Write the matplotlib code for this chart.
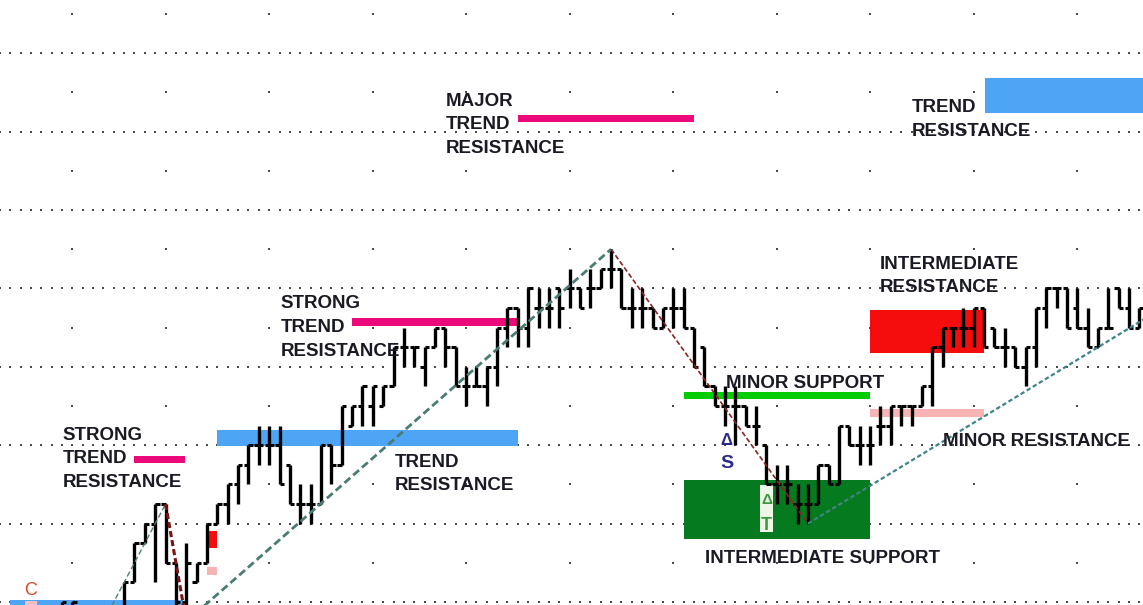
import numpy as np
import matplotlib.pyplot as plt
from matplotlib.patches import Rectangle
from matplotlib import font_manager

# price bars, one per session (price in grid units, 4 units per dotted line)
highs = [0, 0, -0.5, -0.5, -0.5, -0.5, 1, 3, 4, 5,
         5, 2, 3, 2, 4, 5, 6, 7, 8, 9,
         9, 9, 7, 6, 6, 8, 8, 10, 10, 11,
         11, 11, 13, 14, 13, 13, 14, 14, 13, 12,
         12, 12, 14, 15, 15, 16, 16, 16, 16, 17,
         16, 17, 17, 18, 17, 16, 16, 15, 15, 16,
         16, 14, 13, 11, 11, 11, 10, 10, 8, 7,
         7, 6, 6, 7, 7, 9, 9, 9, 9, 10,
         10, 10, 10, 11, 13, 14, 14, 15, 15, 15,
         14, 14, 13, 13, 15, 16, 16, 16, 16, 15,
         14, 16, 16, 16, 15]
lows = [-1, -1, -1.5, -2, -1, -1.5, -1, 1, 3, 1,
        2, -1, -1, 1, 2, 4, 4, 5, 6, 7,
        7, 6, 5, 4, 4, 5, 6, 7, 9, 9,
        9, 10, 11, 12, 12, 11, 13, 12, 11, 10,
        11, 10, 11, 13, 13, 13, 14, 14, 14, 15,
        15, 15, 16, 16, 15, 14, 14, 14, 14, 14,
        14, 12, 11, 10, 9, 8, 9, 8, 6, 5,
        5, 4, 4, 5, 6, 6, 8, 7, 7, 8,
        8, 9, 9, 10, 10, 12, 13, 13, 13, 13,
        13, 12, 12, 11, 12, 14, 15, 14, 14, 13,
        13, 14, 15, 14, 14]
opens = [-1, -1, -1, -1.5, -1, -1, -0.5, 1, 3, 4,
         5, 2, 0, 1, 2, 4, 5, 6, 7, 8,
         8, 8, 7, 5, 5, 5, 8, 7, 9, 10,
         10, 10, 11, 13, 13, 12, 13, 14, 13, 11,
         11, 11, 12, 14, 15, 14, 15, 15, 16, 16,
         16, 16, 16, 17, 17, 15, 15, 15, 14, 15,
         15, 14, 13, 11, 10, 10, 10, 9, 8, 6,
         6, 5, 5, 5, 7, 6, 9, 8, 8, 9,
         9, 10, 10, 10, 11, 13, 14, 14, 14, 15,
         14, 13, 13, 12, 13, 15, 16, 16, 15, 14,
         13, 14, 16, 15, 14]
closes = [0, 0, -1, -1, -0.5, -0.5, 1, 3, 4, 5,
          2, 0, 2, 2, 4, 5, 6, 7, 8, 8,
          8, 6, 5, 5, 5, 8, 7, 10, 10, 11,
          11, 11, 13, 13, 13, 13, 14, 13, 11, 11,
          11, 12, 14, 15, 14, 16, 15, 15, 15, 16,
          15, 16, 17, 17, 15, 15, 15, 14, 15, 15,
          14, 12, 11, 10, 10, 10, 9, 9, 6, 6,
          6, 5, 5, 7, 6, 9, 8, 8, 8, 9,
          10, 10, 10, 11, 13, 14, 14, 14, 15, 13,
          13, 13, 12, 13, 15, 16, 16, 14, 14, 13,
          14, 14, 15, 14, 15]

# sessions that carry a calendar mark on the half-grid rows
date_marks = [1, 10, 20, 30, 39, 49, 59, 69, 78, 88, 98]

# support / resistance zones (session span, price span)
zone_start = [-5.0, -3.6, 7.0, 15.0, 28.0, 44.0, 89.1, 60.0, 60.0, 78.0, 78.0, 14.0, 14.0]
zone_end = [11.7, -2.4, 11.9, 44.0, 44.0, 61.0, 106.0, 78.0, 78.0, 89.0, 89.0, 15.0, 15.0]
zone_low = [-0.5, -0.5, 7.08, 7.96, 14.08, 24.49, 24.95, 10.34, 3.20, 12.72, 9.42, 2.74, 1.38]
zone_high = [0.1, 0.05, 7.45, 8.78, 14.47, 24.85, 26.73, 10.73, 6.22, 14.90, 9.83, 3.64, 1.79]
zone_color = ['#4fa5f5', '#f7c0c0', '#ec0a7b', '#4fa5f5', '#ec0a7b', '#ec0a7b', '#4fa5f5',
              '#00cc00', '#067a1e', '#f50d0d', '#f7b4b4', '#f50d0d', '#f7b4b4']

# trend lines: (start session, start on 'low'/'high', end session, end on ...)
trend_lines = [(4, 'low', 10, 'high'), (12, 'low', 53, 'high'), (10, 'high', 12, 'low'),
               (53, 'high', 72, 'low'), (72, 'low', 100, 'low')]

names = {f.name for f in font_manager.fontManager.ttflist}
if 'Liberation Sans Narrow' in names:
    label_font, label_size = 'Liberation Sans Narrow', 16
else:
    label_font, label_size = 'Liberation Sans', 13.5
fam = [label_font, 'DejaVu Sans']

W, H = 1143, 605
fig = plt.figure(figsize=(W / 100, H / 100), dpi=100)
ax = fig.add_axes([0, 0, 1, 1])
ax.set_xlim(-5.98, 104.34)
ax.set_ylim(-0.153, 30.71)
ax.axis('off')


def px(x, y):
    '''pixel position of the reference -> data coords'''
    return (x - 62) / 10.36, (602 - y) / 19.6


# dotted grid, one dot per session on the full rows
sessions = np.arange(-6, 106)
for lvl in range(0, 30, 4):
    ax.scatter(sessions, np.full(len(sessions), lvl), s=1.8, marker='s', color='#4a4a4a', lw=0, zorder=0)
for lvl in range(2, 32, 4):
    ax.scatter(date_marks, np.full(len(date_marks), lvl), s=1.8, marker='s', color='#4a4a4a', lw=0, zorder=0)

for x0, x1, lo, hi, c in zip(zone_start, zone_end, zone_low, zone_high, zone_color):
    ax.add_patch(Rectangle((x0, lo), x1 - x0, hi - lo, color=c, lw=0, zorder=1))

# OHLC bars
x = np.arange(len(highs))
ax.vlines(x, lows, highs, color='black', lw=2.4, zorder=3)
ax.hlines(opens, x - 0.42, x, color='black', lw=2.2, zorder=3)
ax.hlines(closes, x, x + 0.42, color='black', lw=2.2, zorder=3)

series = {'low': lows, 'high': highs}
styles = [dict(color='#4f8078', lw=1.0, ls=(0, (4, 2))),
          dict(color='#4a7c74', lw=2.0, ls=(0, (2.8, 1.4))),
          dict(color='#7a1414', lw=2.2, ls=(0, (2, 1))),
          dict(color='#8b2323', lw=1.2, ls=(0, (3, 1.5))),
          dict(color='#3f8585', lw=1.6, ls=(0, (2, 1.2)))]
for (a, ka, b, kb), st in zip(trend_lines, styles):
    ya, yb = series[ka][a], series[kb][b]
    xe, ye = b, yb
    if (a, b) == (72, 100):
        xe = 105
        ye = ya + (yb - ya) * (xe - a) / (b - a)
    ax.plot([a, xe], [ya, ye], zorder=4, **st)

labels = [('STRONG', 63, 440), ('TREND', 63, 463), ('RESISTANCE', 63, 487),
          ('STRONG', 281, 308), ('TREND', 281, 332), ('RESISTANCE', 281, 356),
          ('TREND', 395, 467), ('RESISTANCE', 395, 490),
          ('MAJOR', 446, 106), ('TREND', 446, 129), ('RESISTANCE', 446, 153),
          ('TREND', 912, 112), ('RESISTANCE', 912, 136),
          ('INTERMEDIATE', 880, 269), ('RESISTANCE', 880, 292),
          ('MINOR SUPPORT', 726, 388), ('MINOR RESISTANCE', 943, 446),
          ('INTERMEDIATE SUPPORT', 705, 563)]
for txt, lx, ly in labels:
    ax.text(*px(lx, ly), txt, family=fam, size=label_size, weight='bold',
            color='#1a1a24', va='baseline', ha='left', zorder=5)

ax.text(*px(24, 595), 'C', family=fam, size=13, color='#e0482a', va='baseline', zorder=5)
ax.text(*px(720, 445), 'Δ', family=fam, size=12, weight='bold', color='#2a2a8a', va='baseline', zorder=5)
ax.text(*px(720, 468), 'S', family=fam, size=14, weight='bold', color='#2a2a8a', va='baseline', zorder=5)

bx0, by0 = px(760, 532)
bx1, by1 = px(773, 485)
ax.add_patch(Rectangle((bx0, by0), bx1 - bx0, by1 - by0, color='#eef6e8', lw=0, zorder=2))
ax.text(*px(766.5, 504), 'Δ', family=fam, size=11, weight='bold', color='#3c9a3c', ha='center', va='baseline', zorder=5)
ax.text(*px(766.5, 530), 'T', family=fam, size=13, weight='bold', color='#3c9a3c', ha='center', va='baseline', zorder=5)

fig.savefig('out.png', dpi=100, facecolor='white')
